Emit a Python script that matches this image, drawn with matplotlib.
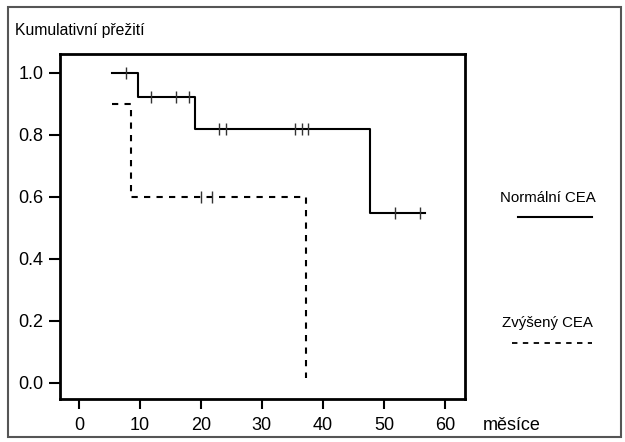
import matplotlib
matplotlib.use("Agg")
import matplotlib.pyplot as plt
from matplotlib.patches import Rectangle
from matplotlib.lines import Line2D

plt.rcParams['font.family'] = ['Liberation Sans', 'DejaVu Sans']

# Normal CEA (solid) step curve
normal_t = [5.4, 9.7, 19.1, 47.7, 56.7]
normal_s = [1.0, 0.923, 0.82, 0.547, 0.547]
normal_cens_t = [7.7, 11.75, 15.9, 18.0, 23.0, 24.1, 35.5, 36.5, 37.5, 51.8, 55.9]
normal_cens_s = [1.0, 0.923, 0.923, 0.923, 0.82, 0.82, 0.82, 0.82, 0.82, 0.547, 0.547]

# Elevated CEA (dashed) step curve
elev_t = [5.4, 8.6, 37.3]
elev_s = [0.9, 0.6, 0.015]
elev_cens_t = [20.0, 21.9]
elev_cens_s = [0.6, 0.6]

xticks = [0, 10, 20, 30, 40, 50, 60]
yticks = [0.0, 0.2, 0.4, 0.6, 0.8, 1.0]

W, H = 625, 442
fig = plt.figure(figsize=(W / 100, H / 100), dpi=100)
ax = fig.add_axes([60 / W, 1 - 399 / H, (465 - 60) / W, (399 - 54) / H])

ax.step(normal_t, normal_s, where='post', color='black', lw=1.5)
ax.plot(normal_cens_t, normal_cens_s, ls='none', marker='|', ms=8, mew=1.0, color='#333333')
ax.step(elev_t, elev_s, where='post', color='black', lw=1.5, ls=(0, (3, 3)))
ax.plot(elev_cens_t, elev_cens_s, ls='none', marker='|', ms=8, mew=1.0, color='#333333')

ax.set_xlim(-3.1, 63.3)
ax.set_ylim(-0.0516, 1.0603)
ax.set_xticks(xticks)
ax.set_yticks(yticks)
ax.set_yticklabels([f"{v:.1f}" for v in yticks])
ax.tick_params(axis='x', direction='out', length=7.3, width=1.5, labelsize=13, pad=6)
ax.tick_params(axis='y', direction='out', length=8, width=1.5, labelsize=13, pad=4)
for s in ax.spines.values():
    s.set_linewidth(2)

fig.text(15 / W, 1 - 30 / H, "Kumulativní přežití", fontsize=11.3, va='center', ha='left')
fig.text(483 / W, 1 - 425 / H, "měsíce", fontsize=13, va='center', ha='left')

fig.text(548 / W, 1 - 198 / H, "Normální CEA", fontsize=10.8, va='center', ha='center')
fig.add_artist(Line2D([518 / W, 592 / W], [1 - 216.5 / H, 1 - 216.5 / H], color='black', lw=1.5))
fig.text(547 / W, 1 - 323 / H, "Zvýšený CEA", fontsize=10.8, va='center', ha='center')
fig.add_artist(Line2D([512 / W, 592 / W], [1 - 343 / H, 1 - 343 / H], color='black', lw=1.3, ls=(0, (3, 3))))

fig.add_artist(Rectangle((7.5 / W, 1 - 437 / H), (621 - 7.5) / W, (437 - 7) / H,
                         fill=False, edgecolor='#555555', lw=1.5, transform=fig.transFigure))

fig.savefig("out.png", dpi=100)
